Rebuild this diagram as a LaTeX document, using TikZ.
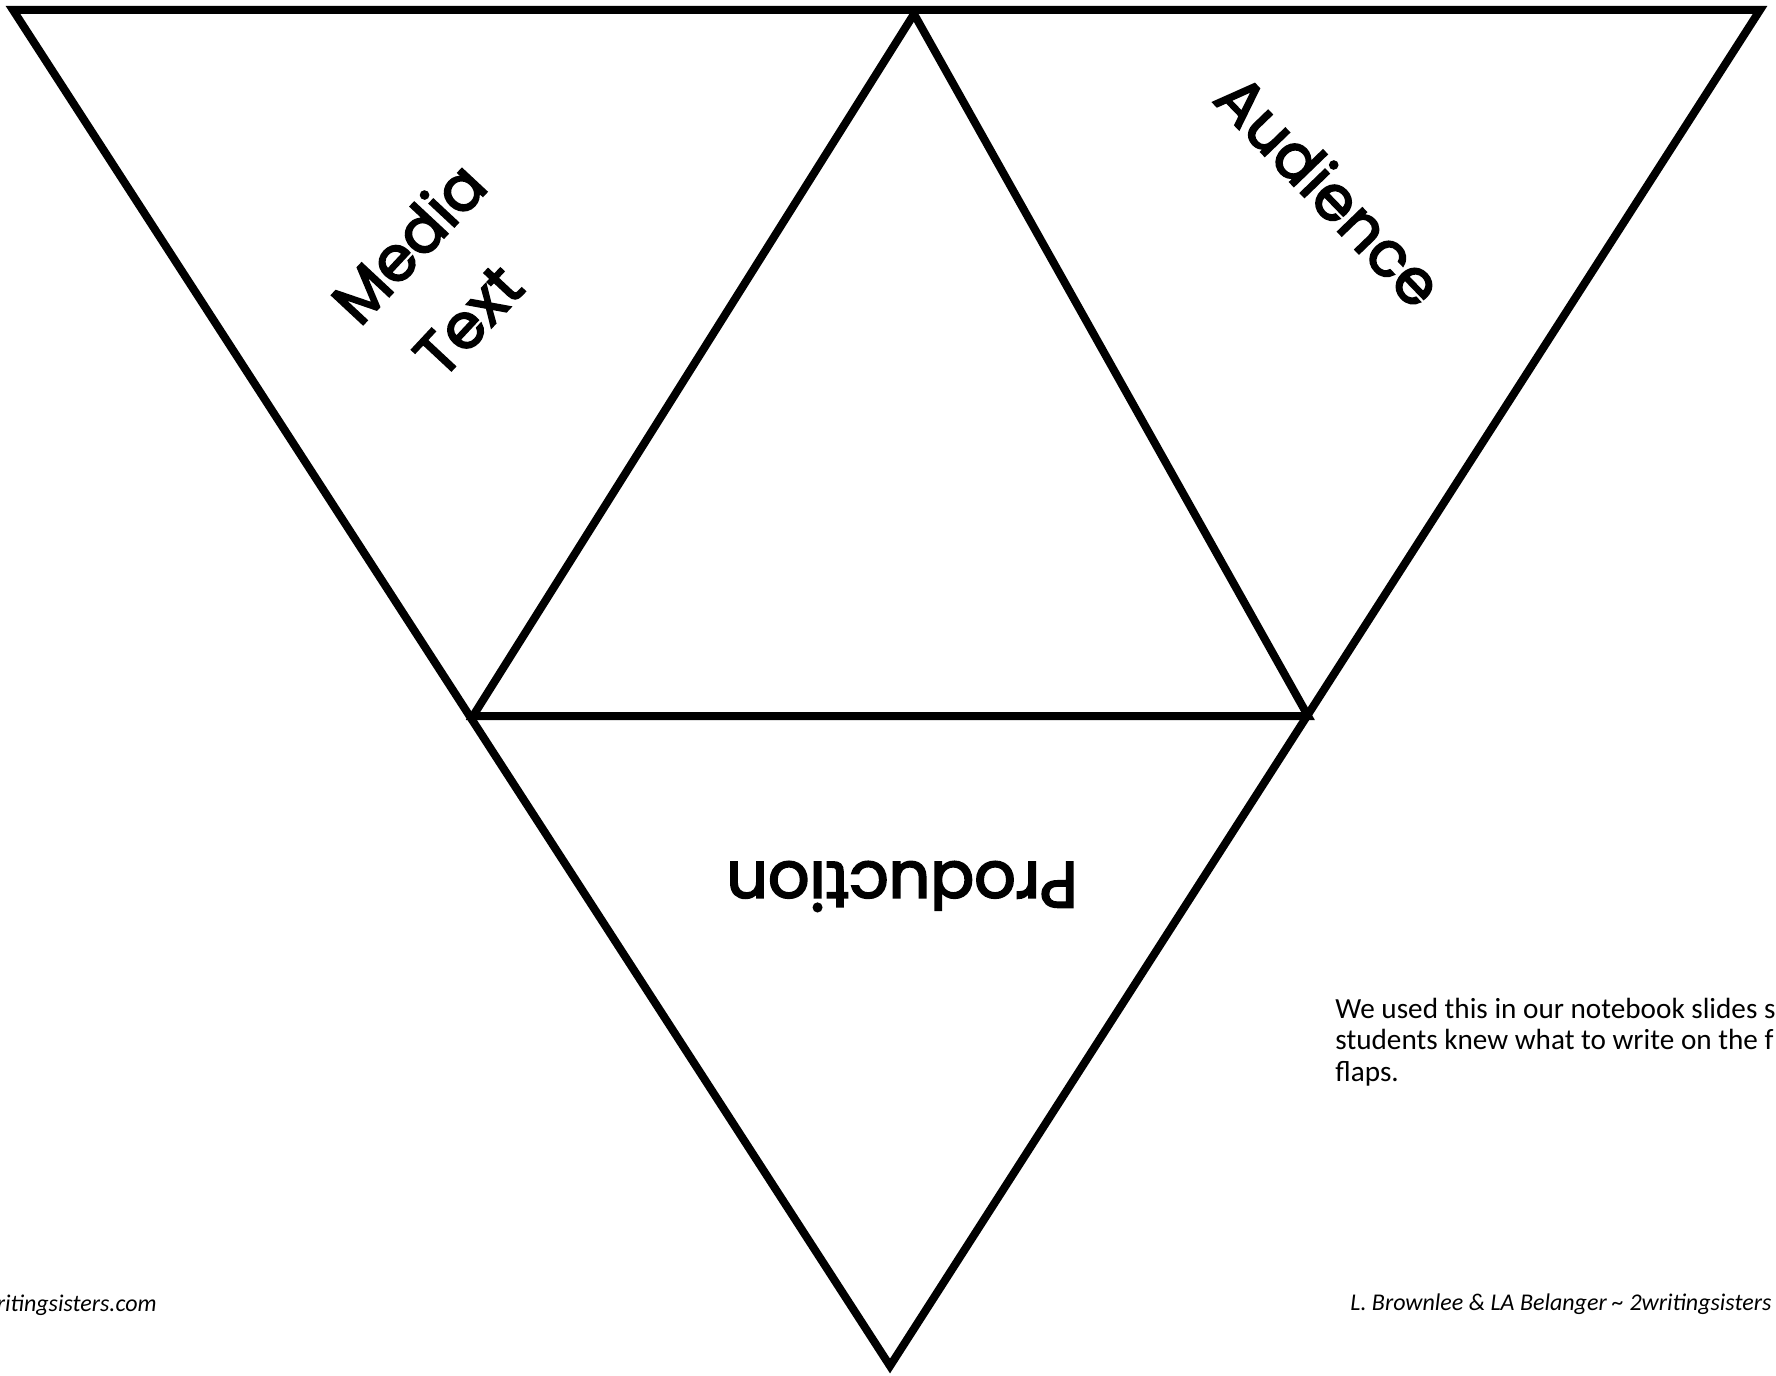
\documentclass[tikz,border=0pt]{standalone}
\usepackage{fontspec}
\setmainfont{Carlito}
\newfontfamily\flapfont[FakeBold=3]{Poppins}
\usepackage{tikz}

\begin{document}
\begin{tikzpicture}[
			x=0.5pt, y=-0.5pt,
			fold/.style={line width=4pt, line join=miter},
			flap/.style={font=\flapfont\fontsize{31}{48}\selectfont, inner sep=0pt, align=center},
			note/.style={font=\fontsize{14.6}{15.7}\selectfont, inner sep=0pt, align=left},
			credit/.style={font=\itshape\fontsize{12}{14}\selectfont, inner sep=0pt}
			]
			\useasboundingbox (0,0) rectangle (1776,1375);
			\coordinate (tl) at (13,10);
			\coordinate (tr) at (1760,10);
			\coordinate (bot) at (890,1366);
			\coordinate (tm) at (914,14);
			\coordinate (ml) at (473,716);
			\coordinate (mr) at (1308,716);
			\draw[fold] (tl) -- (tr) -- (bot) -- cycle;
			\draw[fold] (ml) -- (tm) -- (mr) -- cycle;
			\node[flap, rotate=47] (media) at (443,275) {Media\\Text\hspace*{16pt}};
			\node[flap, rotate=-46] (audience) at (1330,190) {Audience};
			\node[flap, rotate=180, anchor=base, font=\flapfont\fontsize{32.5}{40}\selectfont] (production) at (902,862) {Production};
			\node[note, anchor=base west] (howto) at (1335,1081) {We used this in our notebook slides s\\students knew what to write on the f\\flaps.};
			\node[credit, anchor=base east] (site) at (157,1311) {writingsisters.com};
			\node[credit, anchor=base west] (authors) at (1350,1310) {L. Brownlee \& LA Belanger \textasciitilde{} 2writingsisters};
		\end{tikzpicture}
\end{document}
